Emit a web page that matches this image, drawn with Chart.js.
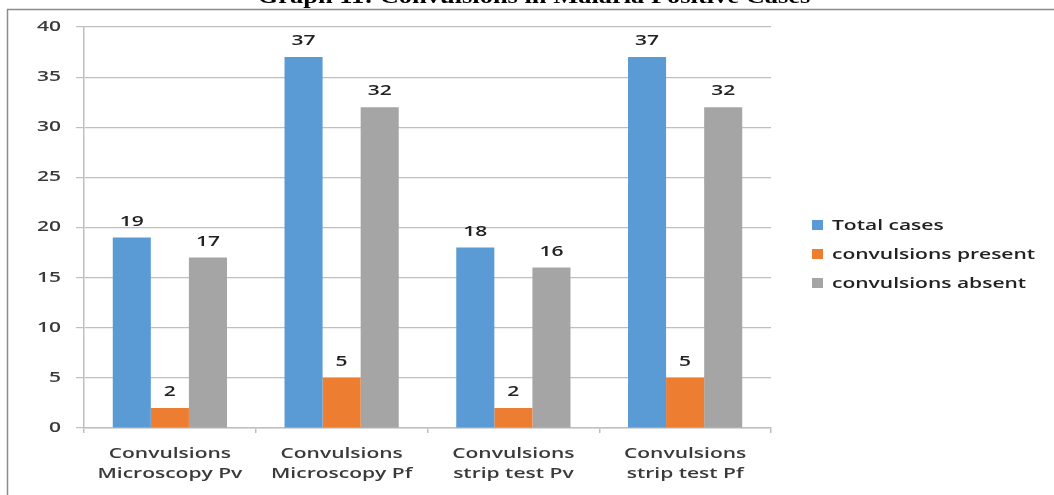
<!DOCTYPE html>
<html>
<head>
<meta charset="utf-8">
<script src="https://cdn.jsdelivr.net/npm/chart.js@4/dist/chart.umd.min.js"></script>
<style>
  html, body { margin: 0; padding: 0; background: #fff; }
  #wrap { width: 1054px; height: 495px; }
</style>
</head>
<body>
<div id="wrap"><canvas id="c" width="1054" height="495"></canvas></div>
<script>
const categories = [
  ["Convulsions", "Microscopy Pv"],
  ["Convulsions", "Microscopy Pf"],
  ["Convulsions", "strip test Pv"],
  ["Convulsions", "strip test Pf"]
];
const seriesNames = ["Total cases", "convulsions present", "convulsions absent"];
const totalCases = [19, 37, 18, 37];
const convulsionsPresent = [2, 5, 2, 5];
const convulsionsAbsent = [17, 32, 16, 32];
const seriesColors = ["#5B9BD5", "#ED7D31", "#A5A5A5"];
const titleText = "Graph 11: Convulsions in Malaria Positive Cases";

const fontFamily = '"Open Sans", "DejaVu Sans", sans-serif';
const labelFont = '600 14px ' + fontFamily;
const textColor = "#3a3a3a";
let textStretch = 1.5;

// wide, horizontally stretched lettering for every text drawn on the canvas
const wideText = {
  id: "wideText",
  afterInit(chart) {
    const ctx = chart.ctx;
    const plain = ctx.fillText.bind(ctx);
    ctx.fillText = function (t, x, y) {
      ctx.save();
      ctx.translate(x, y);
      ctx.scale(textStretch, 1);
      plain(t, 0, 0);
      ctx.restore();
    };
  }
};

// frame, title, value labels and legend
const decorations = {
  id: "decorations",
  beforeDraw(chart) {
    const ctx = chart.ctx;
    ctx.save();
    ctx.fillStyle = "#fff";
    ctx.fillRect(0, 0, chart.width, chart.height);
    ctx.strokeStyle = "#8c8c8c";
    ctx.lineWidth = 1.5;
    ctx.beginPath();
    ctx.moveTo(7.5, chart.height);
    ctx.lineTo(7.5, 9.5);
    ctx.lineTo(chart.width, 9.5);
    ctx.stroke();
    ctx.fillStyle = "#000";
    ctx.font = 'bold 21px "Liberation Serif", "Times New Roman", serif';
    ctx.textAlign = "center";
    ctx.textBaseline = "alphabetic";
    textStretch = 1.26;
    ctx.fillText(titleText, 534, 3);
    textStretch = 1.5;
    ctx.restore();
  },
  afterDatasetsDraw(chart) {
    const ctx = chart.ctx;
    ctx.save();
    ctx.font = labelFont;
    ctx.fillStyle = "#222";
    ctx.textAlign = "center";
    ctx.textBaseline = "alphabetic";
    chart.data.datasets.forEach((ds, i) => {
      chart.getDatasetMeta(i).data.forEach((bar, j) => {
        ctx.fillText(String(ds.data[j]), bar.x, bar.y - 12);
      });
    });
    // legend
    const lx = 812, ly = [225, 254, 283];
    chart.data.datasets.forEach((ds, i) => {
      ctx.fillStyle = ds.backgroundColor;
      ctx.fillRect(lx, ly[i] - 5, 11, 10);
      ctx.fillStyle = "#222";
      ctx.textAlign = "left";
      ctx.textBaseline = "middle";
      ctx.fillText(ds.label, lx + 20, ly[i] + 1);
    });
    ctx.restore();
  }
};

new Chart(document.getElementById("c"), {
  type: "bar",
  data: {
    labels: categories,
    datasets: [
      { label: seriesNames[0], data: totalCases, backgroundColor: seriesColors[0] },
      { label: seriesNames[1], data: convulsionsPresent, backgroundColor: seriesColors[1] },
      { label: seriesNames[2], data: convulsionsAbsent, backgroundColor: seriesColors[2] }
    ]
  },
  options: {
    responsive: false,
    animation: false,
    devicePixelRatio: 1,
    layout: { padding: { left: 0, right: 283, top: 27, bottom: 0 } },
    datasets: { bar: { barPercentage: 1.0, categoryPercentage: 0.665 } },
    plugins: {
      legend: { display: false },
      title: { display: false },
      tooltip: { enabled: false }
    },
    scales: {
      x: {
        grid: {
          offset: true,
          drawOnChartArea: false,
          drawTicks: true,
          tickLength: 5,
          color: "#bfbfbf",
          lineWidth: 1.5
        },
        border: { color: "#bfbfbf", width: 1.5 },
        ticks: {
          color: textColor,
          font: { family: fontFamily, size: 14, weight: "600", lineHeight: 1.45 },
          padding: 11,
          maxRotation: 0,
          autoSkip: false
        },
        afterFit(scale) { scale.height = 67; }
      },
      y: {
        min: 0,
        max: 40,
        ticks: {
          stepSize: 5,
          color: textColor,
          font: { family: fontFamily, size: 14, weight: "600" },
          padding: 15
        },
        grid: {
          color: "#bfbfbf",
          lineWidth: 1.2,
          tickLength: 8
        },
        border: { color: "#bfbfbf", width: 1.5 },
        afterFit(scale) { scale.width = 84; }
      }
    }
  },
  plugins: [wideText, decorations]
});
</script>
</body>
</html>
